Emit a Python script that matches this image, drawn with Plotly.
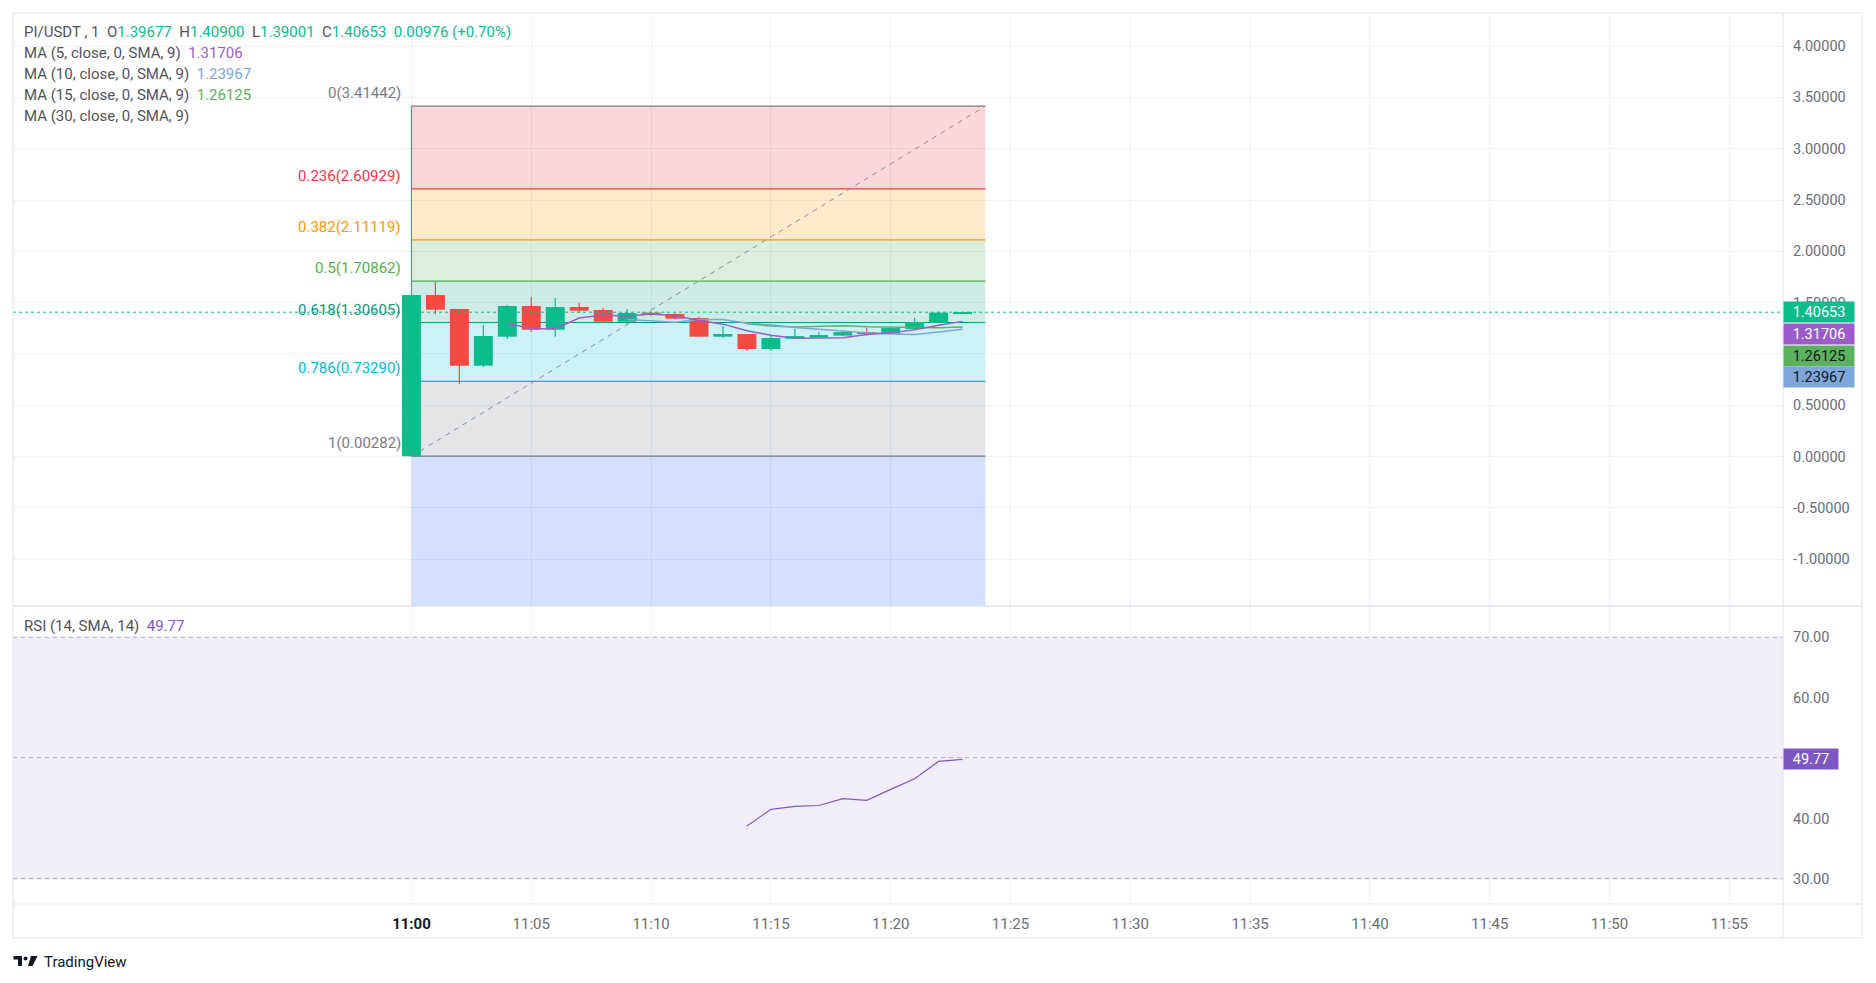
import plotly.graph_objects as go

# ---------------- data ----------------
minutes = list(range(24))  # 0 = 11:00
opens = [0.00282, 1.574, 1.437, 0.885, 1.168, 1.467, 1.236, 1.457, 1.428, 1.314, 1.402, 1.389,
         1.350, 1.168, 1.194, 1.048, 1.148, 1.161, 1.178, 1.213, 1.197, 1.243, 1.301, 1.39677]
highs = [3.41442, 1.704, 1.437, 1.282, 1.477, 1.558, 1.545, 1.496, 1.447, 1.437, 1.410, 1.397,
         1.360, 1.272, 1.194, 1.184, 1.243, 1.213, 1.220, 1.252, 1.262, 1.353, 1.410, 1.40900]
lows = [0.00282, 1.386, 0.710, 0.872, 1.148, 1.217, 1.168, 1.402, 1.298, 1.288, 1.372, 1.335,
        1.165, 1.155, 1.031, 1.031, 1.145, 1.155, 1.175, 1.178, 1.195, 1.240, 1.300, 1.39001]
closes = [1.574, 1.431, 0.885, 1.174, 1.467, 1.236, 1.457, 1.421, 1.314, 1.399, 1.382, 1.343,
          1.168, 1.194, 1.048, 1.155, 1.174, 1.184, 1.213, 1.194, 1.252, 1.311, 1.402, 1.40653]

ma5_x = list(range(4, 24))
ma5 = [1.300, 1.245, 1.245, 1.350, 1.378, 1.368, 1.390, 1.372, 1.325, 1.290, 1.225, 1.182,
       1.152, 1.152, 1.158, 1.190, 1.205, 1.235, 1.280, 1.31706]
ma10_x = list(range(9, 24))
ma10 = [1.335, 1.318, 1.308, 1.335, 1.335, 1.298, 1.285, 1.258, 1.238, 1.225, 1.205, 1.193,
        1.190, 1.213, 1.23967]
ma15_x = list(range(14, 24))
ma15 = [1.295, 1.272, 1.262, 1.272, 1.275, 1.265, 1.260, 1.255, 1.255, 1.26125]

rsi_x = list(range(14, 24))
rsi = [38.76, 41.52, 42.00, 42.15, 43.27, 43.00, 44.82, 46.58, 49.45, 49.77]

fib_ratios = ["0", "0.236", "0.382", "0.5", "0.618", "0.786", "1"]
fib_prices = [3.41442, 2.60929, 2.11119, 1.70862, 1.30605, 0.73290, 0.00282]
fib_colors = ["#787b86", "#f23645", "#ff9800", "#4caf50", "#089981", "#00bcd4", "#787b86"]
fib_fills = ["rgba(242,54,69,0.2)", "rgba(255,152,0,0.2)", "rgba(76,175,80,0.2)",
             "rgba(8,153,129,0.2)", "rgba(0,188,212,0.2)", "rgba(120,123,134,0.2)"]
fib_start, fib_end = 0, 23.95

time_ticks = list(range(0, 60, 5))
time_labels = ["11:00", "11:05", "11:10", "11:15", "11:20", "11:25", "11:30", "11:35",
               "11:40", "11:45", "11:50", "11:55"]
price_ticks = [-1.0, -0.5, 0.0, 0.5, 1.0, 1.5, 2.0, 2.5, 3.0, 3.5, 4.0]
price_labels = ["-1.00000", "-0.50000", "0.00000", "0.50000", "1.00000", "1.50000",
                "2.00000", "2.50000", "3.00000", "3.50000", "4.00000"]
rsi_ticks = [30, 40, 50, 60, 70]
rsi_labels = ["30.00", "40.00", "50.00", "60.00", "70.00"]

# ---------------- styling ----------------
UP = "#0cbc8a"
DOWN = "#f44a42"
C_MA5 = "#9c5dcb"
C_MA10 = "#7ea6d8"
C_MA15 = "#5cb15f"
C_RSI = "#7e57c2"
GRID = "#eef0f5"
BORDER = "#e0e3eb"
TXT = "#6a6d78"
FONT = "Roboto"
FS_AX = 14.5
FS_TX = 15

# page has an 8px body margin; figure is sized so the page is 1876x983
BODY = 8
W, H = 1876 - 2 * BODY, 983 - 2 * BODY
PLOT_L, PLOT_R, PLOT_T, PLOT_B = 13, 1783, 14, 904  # absolute page pixels
PW, PH = PLOT_R - PLOT_L, PLOT_B - PLOT_T
L, T = PLOT_L - BODY, PLOT_T - BODY
R, B = W - L - PW, H - T - PH


def px(x):
    return (x - PLOT_L) / PW


def py(y):
    return (PLOT_B - y) / PH


split = py(606)

fig = go.Figure()

shapes = []
for i in range(len(fib_fills)):
    shapes.append(dict(type="rect", xref="x", yref="y", x0=fib_start, x1=fib_end,
                       y0=fib_prices[i + 1], y1=fib_prices[i], fillcolor=fib_fills[i],
                       line_width=0, layer="between"))
shapes.append(dict(type="rect", xref="x", yref="y", x0=fib_start, x1=fib_end,
                   y0=-5, y1=fib_prices[-1], fillcolor="rgba(41,98,255,0.2)",
                   line_width=0, layer="between"))
for p, c in zip(fib_prices, fib_colors):
    shapes.append(dict(type="line", xref="x", yref="y", x0=fib_start, x1=fib_end,
                       y0=p, y1=p, line=dict(color=c, width=1.2), layer="between"))
shapes.append(dict(type="line", xref="x", yref="y", x0=fib_start, x1=fib_end,
                   y0=fib_prices[-1], y1=fib_prices[0],
                   line=dict(color="#8a8d96", width=1, dash="5px,5px")))
shapes.append(dict(type="line", xref="paper", yref="y", x0=0, x1=1,
                   y0=closes[-1], y1=closes[-1], line=dict(color=UP, width=1, dash="dot")))
shapes.append(dict(type="rect", xref="paper", yref="y2", x0=0, x1=1, y0=30, y1=70,
                   fillcolor="rgba(126,87,194,0.1)", line_width=0, layer="between"))
for lv in (30, 50, 70):
    shapes.append(dict(type="line", xref="paper", yref="y2", x0=0, x1=1, y0=lv, y1=lv,
                       line=dict(color="#787b86", width=1, dash="4px,4px"), layer="between"))
x_right = px(1862)
y_bot = py(938)
shapes += [
    dict(type="rect", xref="paper", yref="paper", x0=0, x1=x_right, y0=y_bot, y1=py(13),
         line=dict(color=BORDER, width=1), fillcolor="rgba(0,0,0,0)"),
    dict(type="line", xref="paper", yref="paper", x0=1, x1=1, y0=y_bot, y1=py(13),
         line=dict(color=BORDER, width=1)),
    dict(type="line", xref="paper", yref="paper", x0=0, x1=x_right, y0=0, y1=0,
         line=dict(color=BORDER, width=1)),
    dict(type="line", xref="paper", yref="paper", x0=0, x1=x_right, y0=split, y1=split,
         line=dict(color=BORDER, width=1.5)),
]
shapes += [
    dict(type="rect", xref="paper", yref="paper", x0=px(13.5), x1=px(22), y0=py(959.5), y1=py(956),
         fillcolor="#131722", line_width=0),
    dict(type="rect", xref="paper", yref="paper", x0=px(18), x1=px(22), y0=py(966), y1=py(956),
         fillcolor="#131722", line_width=0),
    dict(type="circle", xref="paper", yref="paper", x0=px(23.5), x1=px(27.5), y0=py(960.5), y1=py(956.5),
         fillcolor="#131722", line_width=0),
    dict(type="path", xref="paper", yref="paper",
         path=f"M {px(31)},{py(956)} L {px(37.5)},{py(956)} L {px(32.5)},{py(966)} L {px(28)},{py(966)} Z",
         fillcolor="#131722", line_width=0),
]

body_h = [max(abs(c - o), 0.004) for o, c in zip(opens, closes)]
body_b = [min(o, c) for o, c in zip(opens, closes)]
cols = [UP if c >= o else DOWN for o, c in zip(opens, closes)]

for color in (UP, DOWN):
    wx, wy = [], []
    for m, hi, lo, c in zip(minutes, highs, lows, cols):
        if c == color:
            wx += [m, m, None]
            wy += [lo, hi, None]
    fig.add_trace(go.Scatter(x=wx, y=wy, mode="lines", line=dict(color=color, width=1.2),
                             xaxis="x", yaxis="y", hoverinfo="skip"))

fig.add_trace(go.Bar(x=minutes, y=body_h, base=body_b, width=0.79, marker=dict(color=cols, line_width=0),
                     xaxis="x", yaxis="y"))

fig.add_trace(go.Scatter(x=ma15_x, y=ma15, mode="lines", line=dict(color=C_MA15, width=1.5), xaxis="x", yaxis="y"))
fig.add_trace(go.Scatter(x=ma10_x, y=ma10, mode="lines", line=dict(color=C_MA10, width=1.5), xaxis="x", yaxis="y"))
fig.add_trace(go.Scatter(x=ma5_x, y=ma5, mode="lines", line=dict(color=C_MA5, width=1.5), xaxis="x", yaxis="y"))
fig.add_trace(go.Scatter(x=rsi_x, y=rsi, mode="lines", line=dict(color=C_RSI, width=1.2), xaxis="x", yaxis="y2"))

ann = []
g = lambda s, c=UP: f"<span style='color:{c}'>{s}</span>"
sp = "&nbsp;&nbsp;"
legend_rows = [
    ("PI/USDT , 1" + sp + "O" + g("1.39677") + sp + "H" + g("1.40900") + sp + "L" + g("1.39001") + sp
     + "C" + g("1.40653") + sp + g("0.00976 (+0.70%)"), 32),
    ("MA (5, close, 0, SMA, 9)" + sp + g("1.31706", C_MA5), 53),
    ("MA (10, close, 0, SMA, 9)" + sp + g("1.23967", C_MA10), 74),
    ("MA (15, close, 0, SMA, 9)" + sp + g("1.26125", C_MA15), 95),
    ("MA (30, close, 0, SMA, 9)", 116),
    ("RSI (14, SMA, 14)" + sp + g("49.77", C_RSI), 626),
]
for text, yy in legend_rows:
    ann.append(dict(text=text, xref="paper", yref="paper", x=px(22), y=py(yy), xanchor="left",
                    yanchor="middle", showarrow=False, font=dict(size=FS_TX, color="#50535e", family=FONT)))

for r, p, c in zip(fib_ratios, fib_prices, fib_colors):
    ann.append(dict(text=f"{r}({p:.5f})", xref="x", yref="y", x=fib_start, y=p, xanchor="right",
                    yanchor="bottom", xshift=-8, yshift=2, showarrow=False,
                    font=dict(size=FS_TX, color=c, family=FONT)))

axis_labels = [
    (f"{closes[-1]:.5f}", closes[-1], 0, UP, "white"),
    ("1.31706", 1.31706, -12.6, C_MA5, "white"),
    ("1.26125", 1.26125, -28.6, C_MA15, "#131722"),
    ("1.23967", 1.23967, -47.4, C_MA10, "#131722"),
]
for text, val, ysh, bg, fc in axis_labels:
    ann.append(dict(text=text, xref="paper", yref="y", x=1, y=val, xanchor="left", yanchor="middle",
                    yshift=ysh, showarrow=False, bgcolor=bg, width=66, height=16, borderpad=2,
                    font=dict(size=FS_AX, color=fc, family=FONT)))
ann.append(dict(text=f"{rsi[-1]:.2f}", xref="paper", yref="y2", x=1, y=rsi[-1], xanchor="left",
                yanchor="middle", showarrow=False, bgcolor=C_RSI, width=50, height=16, borderpad=2,
                font=dict(size=FS_AX, color="white", family=FONT)))
ann.append(dict(text="TradingView", xref="paper", yref="paper", x=px(42), y=py(961.5), xanchor="left",
                yanchor="middle", showarrow=False, font=dict(size=15, color="#131722", family=FONT)))

tick_text = [f"<b><span style='color:#131722'>{t}</span></b>" if i == 0 else t
             for i, t in enumerate(time_labels)]

fig.update_layout(
    width=W, height=H,
    margin=dict(l=L, r=R, t=T, b=B, pad=0),
    paper_bgcolor="white", plot_bgcolor="white",
    showlegend=False, barmode="overlay",
    font=dict(family=FONT, size=13, color=TXT),
    shapes=shapes, annotations=ann,
    xaxis=dict(domain=[0, 1], anchor="y2", range=[-16.63, 57.24], tickmode="array",
               tickvals=time_ticks, ticktext=tick_text, showgrid=True, gridcolor=GRID, gridwidth=1,
               zeroline=False, showline=False, ticks="", ticklabelstandoff=9,
               tickfont=dict(size=FS_TX, color=TXT, family=FONT), fixedrange=True),
    yaxis=dict(domain=[split, 1], anchor="x", side="right", range=[-1.4571, 4.3129],
               tickmode="array", tickvals=price_ticks, ticktext=price_labels,
               showgrid=True, gridcolor=GRID, zeroline=False, showline=False, ticks="",
               ticklabelstandoff=9, tickfont=dict(size=FS_AX, color=TXT, family=FONT)),
    yaxis2=dict(domain=[0, split], anchor="x", side="right", range=[25.87, 75.12],
                tickmode="array", tickvals=rsi_ticks, ticktext=rsi_labels,
                showgrid=True, gridcolor=GRID, zeroline=False, showline=False, ticks="",
                ticklabelstandoff=9, tickfont=dict(size=FS_AX, color=TXT, family=FONT)),
)

fig.write_html("out.html", config={"displayModeBar": False})
